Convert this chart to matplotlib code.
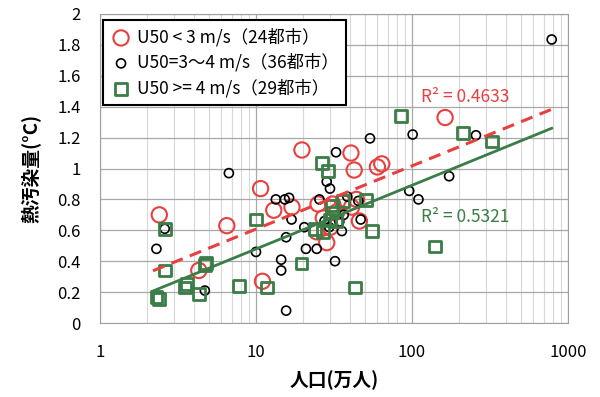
import numpy as np
import matplotlib
matplotlib.use("Agg")
import matplotlib.pyplot as plt
from matplotlib.ticker import FixedLocator, NullFormatter

plt.rcParams['font.family'] = ['Noto Sans CJK JP', 'DejaVu Sans']

RED = '#e8403f'
GREEN = '#3a7d46'

# U50 < 3 m/s (24 cities)
low_pop = [2.4, 6.5, 10.7, 11, 4.3, 13, 17, 19.7, 25, 24.5, 28.4, 31,
           33, 36, 40.6, 42.6, 41, 46, 60, 64, 163, 30, 27, 44]
low_heat = [0.70, 0.63, 0.87, 0.27, 0.34, 0.73, 0.75, 1.12, 0.77, 0.59, 0.52, 0.77,
            0.72, 0.78, 1.10, 0.99, 0.75, 0.66, 1.01, 1.03, 1.33, 0.62, 0.68, 0.80]

# U50 = 3~4 m/s (36 cities)
mid_pop = [2.3, 2.6, 4.7, 6.7, 10, 13.4, 15.3, 16.3, 16.9, 15.6, 14.5, 14.5,
           15.6, 20.4, 20.9, 24.5, 25.5, 28.4, 29.8, 32.6, 29.5, 32.1, 35.5, 34.2,
           38.5, 45.3, 46.9, 53.8, 101, 257, 173, 96, 110, 786, 36.5, 27.5]
mid_heat = [0.48, 0.61, 0.21, 0.97, 0.46, 0.80, 0.80, 0.81, 0.67, 0.555, 0.41, 0.34,
            0.08, 0.62, 0.48, 0.48, 0.80, 0.915, 0.87, 1.105, 0.62, 0.40, 0.595, 0.656,
            0.818, 0.79, 0.67, 1.195, 1.22, 1.215, 0.95, 0.855, 0.80, 1.835, 0.70, 0.66]

# U50 >= 4 m/s (29 cities)
high_pop = [2.3, 2.4, 2.6, 2.6, 3.6, 4.3, 4.7, 7.8, 10, 11.8, 19.6, 26.5,
            29.1, 30.6, 30.6, 29.8, 24, 27, 43, 50.6, 55.7, 84.6, 213, 327,
            140, 32.5, 36, 3.5, 4.8]
high_heat = [0.17, 0.155, 0.34, 0.61, 0.25, 0.19, 0.375, 0.24, 0.67, 0.23, 0.385, 1.035,
             0.985, 0.76, 0.715, 0.67, 0.61, 0.59, 0.23, 0.795, 0.595, 1.34, 1.23, 1.175,
             0.495, 0.66, 0.79, 0.23, 0.39]

# log trendlines y = a*ln(x) + b
low_fit = (0.1776, 0.199)
high_fit = (0.179, 0.067)
low_r2 = 0.4633
high_r2 = 0.5321

fig = plt.figure(figsize=(6, 3.97), dpi=100)
ax = fig.add_axes([100 / 600, 74 / 397, 468 / 600, 309 / 397])

ax.scatter(low_pop, low_heat, s=11 ** 2, facecolors='none', edgecolors=RED,
           linewidths=1.5, zorder=3, label='U50 < 3 m/s（24都市）')
ax.scatter(mid_pop, mid_heat, s=6.5 ** 2, facecolors='none', edgecolors='black',
           linewidths=1.2, zorder=3, label='U50=3～4 m/s（36都市）')
ax.scatter(high_pop, high_heat, s=8.5 ** 2, marker='s', facecolors='none',
           edgecolors=GREEN, linewidths=2, zorder=3, label='U50 >= 4 m/s（29都市）')

all_pop = low_pop + mid_pop + high_pop
xs = np.geomspace(min(all_pop) * 0.95, max(all_pop), 50)
ax.plot(xs, low_fit[0] * np.log(xs) + low_fit[1], color=RED, lw=2.2,
        ls=(0, (4, 2.5)), zorder=4)
ax.plot(xs, high_fit[0] * np.log(xs) + high_fit[1], color=GREEN, lw=2, zorder=4)

ax.text(114, 1.463, f'R² = {low_r2:.4f}', color=RED, fontsize=12.5, va='center')
ax.text(114, 0.686, f'R² = {high_r2:.4f}', color=GREEN, fontsize=12.5, va='center')

ax.set_xscale('log')
ax.set_xlim(1, 1000)
ax.set_ylim(0, 2)
ax.set_xticks([1, 10, 100, 1000])
ax.set_xticklabels(['1', '10', '100', '1000'])
ax.xaxis.set_minor_locator(FixedLocator(
    [m * 10 ** e for e in range(3) for m in range(2, 10)]))
ax.xaxis.set_minor_formatter(NullFormatter())
ax.set_yticks(np.arange(0, 2.01, 0.2))
ax.set_yticklabels(['0', '0.2', '0.4', '0.6', '0.8', '1', '1.2', '1.4', '1.6', '1.8', '2'])

ax.grid(which='major', color='#a8a8a8', lw=0.9)
ax.grid(which='minor', axis='x', color='#d8d8d8', lw=0.8)
ax.set_axisbelow(True)
for s in ax.spines.values():
    s.set_color('#a0a0a0')
ax.tick_params(which='both', length=0)
ax.tick_params(axis='y', labelsize=12, pad=14)
ax.tick_params(axis='x', labelsize=12, pad=15)

ax.set_xlabel('人口(万人)', fontsize=13.5, fontweight='bold', labelpad=7)
ax.set_ylabel('熱汚染量(°C)', fontsize=13.5, fontweight='bold', labelpad=12)

leg = ax.legend(loc='upper left', bbox_to_anchor=(0.006, 0.98), fontsize=12.5,
                frameon=True, fancybox=False, borderpad=0.45, labelspacing=0.4,
                handletextpad=0.3, handlelength=1.2, borderaxespad=0)
leg.get_frame().set_edgecolor('black')
leg.get_frame().set_linewidth(1.5)
leg.get_frame().set_alpha(1)

fig.savefig('out.png', dpi=100)
